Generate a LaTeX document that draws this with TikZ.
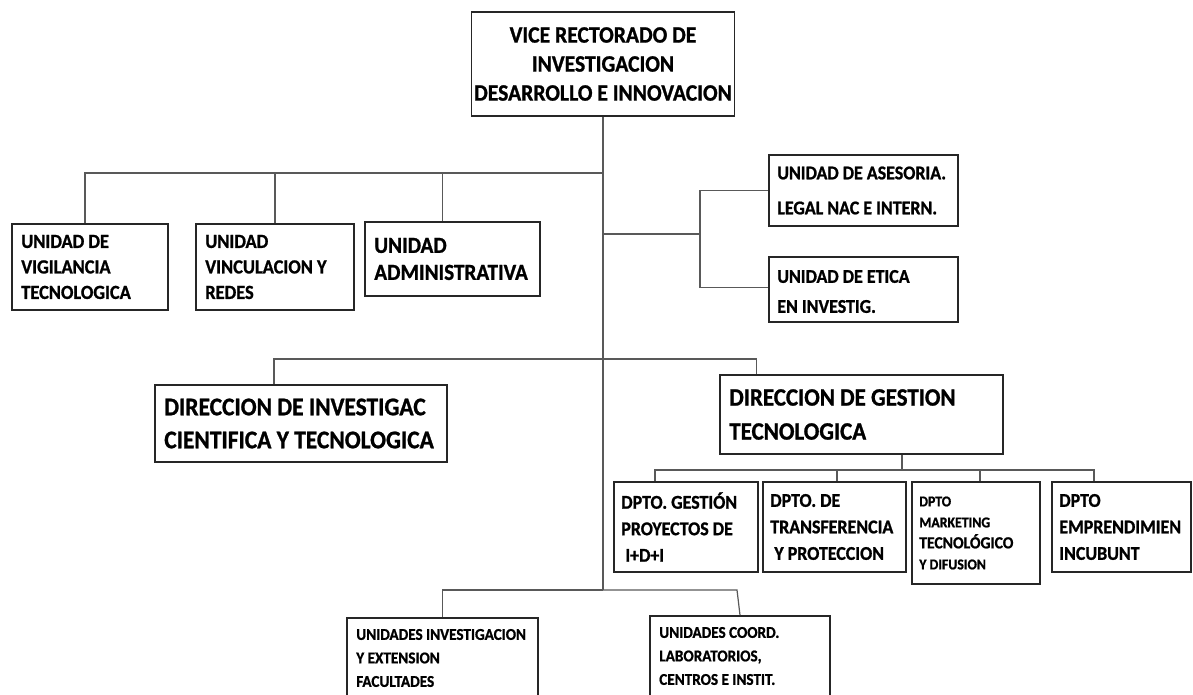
\documentclass[tikz,border=0pt]{standalone}
\usepackage{fontspec}
\setmainfont{Carlito}[FakeStretch=0.92, BoldFeatures={FakeBold=1}]
\usetikzlibrary{calc}
\begin{document}
\begin{tikzpicture}[x=1pt,y=-1pt,
  box/.style={draw=black!85, line width=1.8pt, fill=white, inner sep=0pt},
  txt/.style={inner sep=0pt, align=left, anchor=west},
  conn/.style={draw=black!65, line width=1.2pt},
  fs/.style n args={2}{font=\fontsize{#1}{#2}\selectfont\bfseries},
  sz/.style n args={2}{minimum width=#1, minimum height=#2}]
\useasboundingbox (0,0) rectangle (1193,695);
\clip (0,0) rectangle (1193,695);
\coordinate (trunkbot) at (603,590);
\coordinate (r1) at (603,173);
\coordinate (r2) at (603,234);
\coordinate (k) at (700,234);
\coordinate (r3) at (603,359);
% boxes
\node[box, sz={263pt}{104pt}, fs={23.5}{29}, align=center] (top) at (603,64) {VICE RECTORADO DE\\INVESTIGACION\\DESARROLLO E INNOVACION};
\node[box, sz={156pt}{86pt}] (b1) at (90,267) {};
\node[box, sz={158pt}{86pt}] (b2) at (275,267) {};
\node[box, sz={175pt}{74pt}] (b3) at (452.5,259) {};
\node[box, sz={189pt}{71pt}] (ases) at (863.5,190.5) {};
\node[box, sz={189pt}{65pt}] (etica) at (863.5,289.5) {};
\node[box, sz={292pt}{77pt}] (dirinv) at (301,423.5) {};
\node[box, sz={283pt}{79pt}] (dgt) at (861.5,414.5) {};
\node[box, sz={144pt}{90pt}] (da) at (686,527) {};
\node[box, sz={143pt}{90pt}] (db) at (834.5,527) {};
\node[box, sz={128pt}{102pt}] (dc) at (976,533) {};
\node[box, sz={139pt}{90pt}] (dd) at (1121.5,527) {};
\node[box, sz={191pt}{80pt}] (ua) at (442.5,658) {};
\node[box, sz={180pt}{80pt}] (uc) at (740,656) {};
% texts
\node[txt, fs={20}{25.5}] (b1t) at ([xshift=10pt]b1.west) {UNIDAD DE\\VIGILANCIA\\TECNOLOGICA};
\node[txt, fs={20}{25.5}] (b2t) at ([xshift=10pt]b2.west) {UNIDAD\\VINCULACION Y\\REDES};
\node[txt, fs={23}{27}] (b3t) at ([xshift=10pt]b3.west) {UNIDAD\\ADMINISTRATIVA};
\node[txt, fs={19.5}{35}] (asest) at ([xshift=9pt]ases.west) {UNIDAD DE ASESORIA.\\LEGAL NAC E INTERN.};
\node[txt, fs={19.5}{30}] (eticat) at ([xshift=9pt,yshift=-2pt]etica.west) {UNIDAD DE ETICA\\EN INVESTIG.};
\node[txt, fs={25.5}{33}] (dirinvt) at ([xshift=10pt]dirinv.west) {DIRECCION DE INVESTIGAC\\CIENTIFICA Y TECNOLOGICA};
\node[txt, fs={25}{34}] (dgtt) at ([xshift=10pt]dgt.west) {DIRECCION DE GESTION\\TECNOLOGICA};
\node[txt, fs={19.5}{26.5}] (dat) at ([xshift=8pt]da.west) {DPTO. GESTIÓN\\PROYECTOS DE\\\ I+D+I};
\node[txt, fs={19.5}{26.5}] (dbt) at ([xshift=8pt]db.west) {DPTO. DE\\TRANSFERENCIA\\\ Y PROTECCION};
\node[txt, fs={15}{21}] (dct) at ([xshift=8pt]dc.west) {DPTO\\MARKETING\\{\fontsize{17}{21}\selectfont TECNOLÓGICO}\\Y DIFUSION};
\node[txt, fs={19.5}{26.5}] (ddt) at ([xshift=8pt]dd.west) {DPTO\\EMPRENDIMIEN\\INCUBUNT};
\node[txt, fs={16.5}{23.5}] (uat) at ([xshift=10pt]ua.west) {UNIDADES INVESTIGACION\\Y EXTENSION\\FACULTADES};
\node[txt, fs={16.5}{23.5}] (uct) at ([xshift=10pt]uc.west) {UNIDADES COORD.\\LABORATORIOS,\\CENTROS E INSTIT.};
% connectors
\draw[conn] (top.south) -- (trunkbot);
\draw[conn] (r1) -| ([xshift=-5pt]b1.north);
\draw[conn] (r1 -| b2.north) -- (b2.north);
\draw[conn] ([xshift=-10pt]r1 -| b3.north) -- ([xshift=-10pt]b3.north);
\draw[conn] (r2) -- (k);
\coordinate (kt) at (k |- ases.west);
\coordinate (kb) at ($(k |- etica.west)+(0,-2)$);
\draw[conn] (kt) -- (kb);
\draw[conn] (kt) -- (ases.west);
\draw[conn] (kb) -- (etica.west |- kb);
\draw[conn] (r3) -| ([xshift=-27pt]dirinv.north);
\draw[conn] (r3) -| ([xshift=37pt]dgt.north west);
\coordinate (dj) at (902,470);
\draw[conn] (dgt.south -| dj) -- (dj);
\draw[conn] (dj) -| ([xshift=-31pt]da.north);
\draw[conn] (dj) -| ([xshift=-27.5pt]dd.north);
\draw[conn] ([xshift=2.5pt]dj -| db.north) -- ([xshift=2.5pt]db.north);
\draw[conn] ([xshift=4pt]dj -| dc.north) -- ([xshift=4pt]dc.north);
\draw[conn] (trunkbot) -| (ua.north);
\coordinate (tr) at (737,590);
\draw[conn] (trunkbot) -- (tr) -- (uc.north);
\end{tikzpicture}
\end{document}
